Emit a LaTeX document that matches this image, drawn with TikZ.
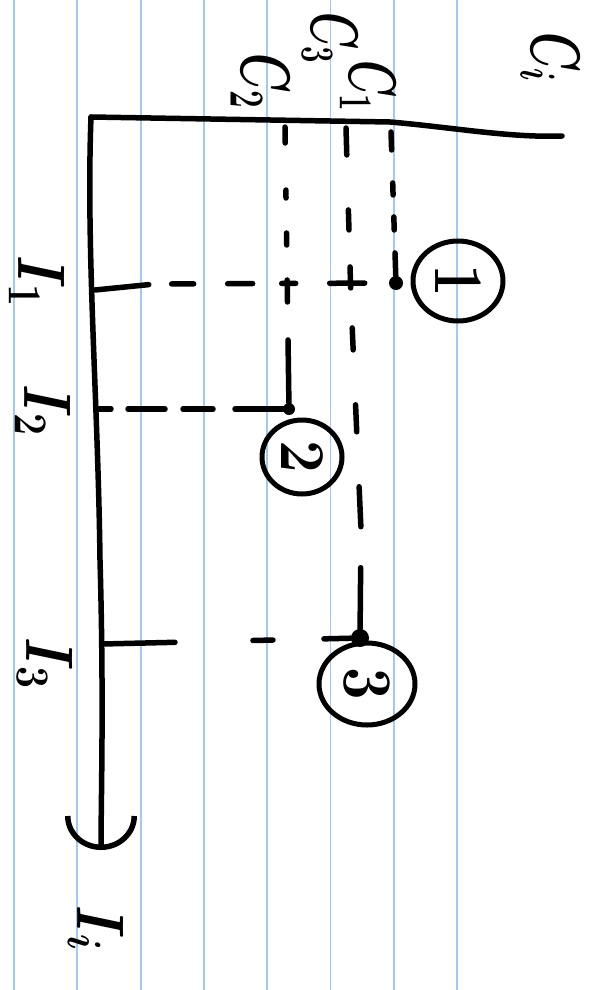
\RequirePackage{fix-cm}
\documentclass[tikz,border=0pt]{standalone}
\usetikzlibrary{arrows.meta,shapes.geometric}
\definecolor{ruled}{RGB}{160,202,245}
\begin{document}
\begin{tikzpicture}[x=1pt,y=-1pt,
  hand/.style={line width=5.5pt, line cap=round, line join=round},
  lab/.style={rotate=-90, inner sep=0pt, font=\fontsize{56}{56}\selectfont\boldmath},
  dotpt/.style={circle, fill=black, inner sep=0pt, minimum size=#1},
  ring/.style={ellipse, draw, line width=5pt, rotate=-90, inner sep=0pt, font=\fontsize{58}{58}\selectfont\bfseries},
  ruleline/.style={draw=ruled, line width=1.8pt}]
\useasboundingbox (0,0) rectangle (604,990);
\fill[white] (0,0) rectangle (604,990);
\foreach \k in {0,...,7} \draw[ruleline] ({14+63.3*\k},0) -- ({14+63.3*\k},990);

% axis ends and line starts
\coordinate (O) at (91,117);
\coordinate (Cend) at (562,136);
\coordinate (Iend) at (101,850);
\coordinate (c1) at (391,132);
\coordinate (c2) at (285,127);
\coordinate (c3) at (346,128);
\coordinate (i1) at (95,290);
\coordinate (i2) at (97,409);
\coordinate (i3) at (102,644);

% points
\node[dotpt=14pt] (p1) at (396,283) {};
\node[dotpt=12pt] (p2) at (289,409) {};
\node[dotpt=18pt] (p3) at (360,638) {};

% circled numbers
\node[ring, minimum width=80pt, minimum height=90pt] (r1) at (458,281) {\scalebox{1}[1.2]{1}};
\node[ring, minimum width=74pt, minimum height=80pt] (r2) at (302,457) {\scalebox{1}[1.1]{2}};
\node[ring, minimum width=82pt, minimum height=96pt] (r3) at (367,684) {\scalebox{1}[1.2]{3}};

% axes
\draw[hand] (O) -- (390,122) .. controls (450,127) and (510,138) .. (Cend);
\draw[hand, -{Arc Barb[arc=180, length=34pt, width=72pt]}] (O) .. controls (86,250) and (98,400) .. (100,560) .. controls (104,700) and (101,800) .. (Iend);

% dashed projections
\draw[hand, dash pattern=on 16pt off 47pt on 8pt off 35pt on 12pt off 35pt on 22pt off 38pt on 100pt] (c2) -- (p2);
\draw[hand, dash pattern=on 27pt off 55pt on 20pt off 37pt on 21pt off 40pt on 22pt off 55pt on 27pt off 55pt on 40pt off 41pt on 100pt] (c3) -- (351,300) -- (361,530) -- (p3);
\draw[hand, dash pattern=on 18pt off 33pt on 12pt off 22pt on 13pt off 23pt on 100pt] (c1) -- (p1);
\draw[hand, dash pattern=on 54pt off 23pt on 22pt off 34pt on 25pt off 29pt on 14pt off 34pt on 35pt off 100pt] (i1) -- (155,284) -- (p1);
\draw[hand, dash pattern=on 14pt off 17pt on 37pt off 18pt on 30pt off 22pt on 100pt] (i2) -- (p2);
\draw[hand, dash pattern=on 73pt off 78pt on 20pt off 51pt on 100pt] (i3) -- (p3);

% labels
\node[lab] (lC2) at (260,81) {\scalebox{0.8}[1.25]{$C_2$}};
\node[lab] (lC3) at (330,38) {\scalebox{0.75}[1.2]{$C_3$}};
\node[lab] (lC1) at (368,86) {\scalebox{0.75}[1.2]{$C_1$}};
\node[lab] (lCi) at (550,57) {\scalebox{0.8}[1.25]{$C_i$}};
\node[lab] (lI1) at (37,281) {\scalebox{1}[1.2]{$I_1$}};
\node[lab] (lI2) at (43,410) {\scalebox{1}[1.2]{$I_2$}};
\node[lab] (lI3) at (45,663) {\scalebox{1}[1.2]{$I_3$}};
\node[lab] (lIi) at (96,928) {\scalebox{1}[1.2]{$I_i$}};
\end{tikzpicture}
\end{document}
